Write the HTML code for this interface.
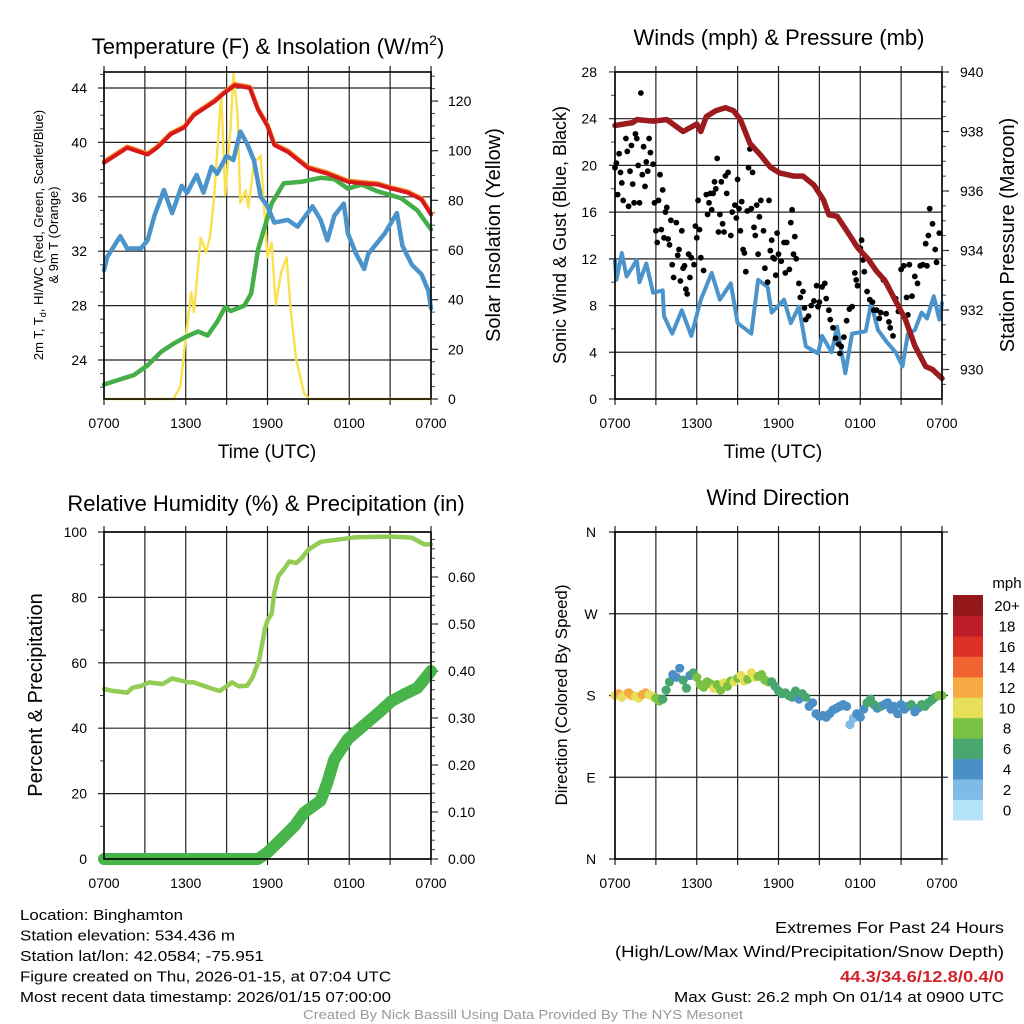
<!DOCTYPE html>
<html><head><meta charset="utf-8">
<style>
html,body{margin:0;padding:0;background:#fff;}
svg{display:block;font-family:"Liberation Sans",Arial,sans-serif;}
</style></head>
<body>
<svg id="chart" width="1024" height="1024" viewBox="0 0 1024 1024" xmlns="http://www.w3.org/2000/svg">
<g id="g"></g>
</svg>
<script>
// ---------- DATA ----------
const tRed = [0,1.7,3.2,3.9,4.9,5.9,6.6,8.1,8.8,9.6,10.7,11.3,12,12.5,13.5,15,16.4,17.9,18.9,20.1,21.1,22.3,23.3,24];
const vRed = [38.5,39.6,39.1,39.6,40.6,41.1,42.0,43.0,43.6,44.2,44.0,42.4,41.2,39.8,39.3,38.1,37.7,37.1,37.0,36.9,36.6,36.3,35.8,34.7];
const tGreen = [0,2.2,3.2,4.2,5.1,6,6.9,7.6,8.3,8.9,9.3,10.3,10.8,11.3,11.8,12.3,13.2,14.5,15.9,16.9,17.9,18.9,20.1,21.8,23,24];
const vGreen = [22.2,22.9,23.6,24.6,25.2,25.7,26.1,25.8,26.8,27.9,27.6,28.0,28.9,32.1,33.8,35.5,37.0,37.1,37.4,37.3,36.6,36.9,36.4,35.9,35.0,33.6];
const tBlue = [0,0.25,1.2,1.7,2.7,3.2,3.7,4.4,5.0,5.7,6.1,6.8,7.3,7.9,8.3,9.0,9.5,10.0,10.5,11.0,11.5,12.0,12.5,13.5,14.2,15.3,15.9,16.4,16.9,17.6,17.9,18.5,19.1,19.4,20.6,21.5,21.9,22.6,23.3,23.8,24];
const vBlue = [30.6,31.6,33.1,32.2,32.2,32.8,34.6,36.5,34.8,36.8,36.3,37.6,36.3,38.2,37.7,39.0,38.7,40.8,39.9,38.7,36.0,35.3,34.1,34.3,33.8,35.3,34.3,32.8,34.6,35.5,33.3,31.8,30.7,31.8,33.3,34.8,32.4,31.0,30.3,29.1,27.8];
const tSun = [0,5.1,5.6,6,6.4,6.6,7.1,7.5,7.8,8.1,8.6,8.9,9.3,9.5,9.8,10.0,10.4,10.6,11.0,11.5,12.0,12.3,12.6,13.0,13.4,13.7,14.1,14.7,15.1,24];
const vSun = [0,0,5,25,43,35,65,59,66,83,123,82,110,131,115,79,84,77,95,98,57,63,38,51,57,36,16,2,0,0];
const tPres = [0,1.3,1.6,2.8,3.8,5.0,6.0,6.3,6.7,7.4,8.1,8.7,9.2,9.9,10.7,11.4,12.1,13.1,13.8,14.6,15.3,15.7,16.3,17.1,17.8,18.6,19.2,19.8,20.6,21.3,22.0,22.8,23.3,24];
const vPres = [938.2,938.3,938.4,938.35,938.4,938.0,938.25,938.0,938.5,938.7,938.8,938.7,938.4,937.6,937.2,936.8,936.6,936.5,936.5,936.2,935.7,935.2,935.15,934.6,934.1,933.7,933.3,933.0,932.3,931.7,930.8,930.1,930.0,929.7];
const tWind = [0,0.1,0.5,0.85,1.6,1.8,2.3,2.8,3.5,3.6,4.2,4.9,5.6,6.3,7.1,7.7,8.5,9.0,10.0,10.5,11.2,11.5,12.4,12.9,13.5,14.0,14.9,15.2,15.9,16.3,16.9,17.4,18.4,18.8,19.3,20.0,20.6,21.1,21.5,22.0,22.5,22.9,23.4,23.8,24];
const vWind = [11.9,10.2,12.5,10.5,11.9,10.0,11.6,9.1,9.3,7.1,5.6,7.6,5.4,8.5,10.8,8.5,9.9,6.5,5.6,10.2,9.6,7.4,8.5,6.5,7.9,4.5,3.9,5.4,4.0,6.2,2.2,5.6,5.8,8.2,5.9,4.8,4.0,2.8,5.6,5.9,7.4,6.9,8.8,6.8,8.2];
const tGust = [0,0.1,0.2,0.3,0.4,0.5,0.6,0.8,0.9,1,1.1,1.2,1.3,1.4,1.5,1.6,1.7,1.8,1.9,2.0,2.1,2.2,2.3,2.4,2.5,2.6,2.8,2.9,3.0,3.1,3.2,3.3,3.4,3.5,3.6,3.7,3.8,3.9,4.0,4.1,4.2,4.3,4.5,4.6,4.7,4.8,4.9,5.0,5.1,5.2,5.3,5.4,5.5,5.6,5.8,5.9,6.0,6.1,6.2,6.3,6.5,6.7,6.8,6.9,7.0,7.1,7.2,7.3,7.4,7.5,7.6,7.7,7.8,7.9,8.0,8.1,8.2,8.3,8.5,8.6,8.8,8.9,9.0,9.1,9.2,9.3,9.4,9.5,9.6,9.7,9.8,9.9,10.0,10.1,10.2,10.3,10.4,10.5,10.6,10.7,10.9,11.0,11.2,11.3,11.4,11.5,11.6,11.7,11.8,11.9,12.0,12.2,12.4,12.5,12.6,12.8,12.9,13.0,13.1,13.2,13.3,13.5,13.6,13.8,13.9,14.0,14.2,14.4,14.6,14.8,14.9,15.0,15.2,15.4,15.5,15.7,15.8,16.0,16.2,16.4,16.5,16.6,16.8,17.0,17.2,17.4,17.6,17.7,17.8,18.0,18.1,18.2,18.3,18.5,18.7,18.9,19.0,19.2,19.4,19.5,19.7,19.9,20.1,20.2,20.4,20.6,20.8,21.0,21.2,21.4,21.5,21.6,21.8,22.0,22.2,22.4,22.6,22.8,22.9,23.0,23.1,23.3,23.5,23.6,23.8];
const vGust = [19.8,20.2,17.5,21,19.4,18.5,17,22.3,21.2,16.5,19.5,21.7,18.4,16.8,22.7,22.3,20,16.8,26.2,19.2,21.6,18.2,20.3,19.5,22.3,21.1,20.1,16.8,14.4,13.4,17,19.2,14.5,17.9,13.8,16,16.4,13.7,13.2,15.3,11.5,10.4,15.1,12.3,12.8,10.1,14.4,11.2,11.4,9.4,9.0,12.4,10.4,12.1,11.5,14.8,13.8,17,14.5,12.1,11,17.5,15.8,16.8,17.6,16.2,17.6,18.6,18,20.6,14.3,15.8,18.6,15,14.3,19.1,17.6,19.4,14,16,16.6,15.5,18.8,16.3,14.4,16.9,12.8,12.5,10.9,16.1,19.8,21.4,16.3,19.4,14.7,14,16.6,12.4,15.6,17,14.4,11.2,10,17,12.7,13.6,12.1,12,10.6,14.2,12.4,11.8,13.4,10.8,13.4,11.1,15.1,16.2,12.4,13.9,12,9.9,8.7,9.2,7.8,6.8,7.1,8,8.4,9.7,7.9,8.3,9.6,9.9,8.6,7.6,6.8,6.1,5.2,4.7,3.9,4.5,5.3,6.7,7.7,7.9,10.8,10.2,9.7,12.9,13.6,11.9,10.9,9.2,8.5,8.3,7.6,7.6,6.9,7.4,10.2,7.3,6.6,6.1,5.4,8.6,7.5,11.1,11.4,8.7,7.2,11.5,8.8,10.5,9.9,11.4,11.5,13.3,11.4,14,16.3,15,12.8,11.7,14.2];
const tRH = [0,0.5,1.7,2.1,2.7,3.3,4.3,5.0,6.2,6.6,7.3,8.0,8.5,9.4,9.9,10.5,10.9,11.4,11.8,12.0,12.3,12.5,12.8,13.2,13.6,14.1,14.5,15.0,15.9,18.5,21.1,22.6,23.5,24];
const vRH = [52,51.5,50.9,52.4,52.9,54,53.5,55.2,54,54,53,52,51.4,54,52.8,53,55.5,61,70.3,73,75,81.5,86.5,88.6,91,90.5,92,94.6,97,98.4,98.6,98.3,96.2,96.2];
const tPcp = [0,11.3,12.0,13.0,14.0,14.7,15.9,16.4,16.9,17.9,19.3,20.3,21.1,22.0,23.0,23.5,24];
const vPcp = [0,0,0.014,0.042,0.071,0.099,0.124,0.163,0.212,0.255,0.29,0.315,0.336,0.35,0.364,0.382,0.4];
const dirDeg = [180,182,178,181,183,180,179,177,181,183,181,179,177,
174,176,186,195,203,200,210,197,188,202,205,200,
192,189,195,193,188,192,186,194,190,196,195,199,
202,196,198,205,200,201,203,197,195,195,190,185,
182,183,180,178,185,176,182,178,168,172,160,157,
158,156,160,164,166,168,170,168,148,155,160,156,
165,172,176,170,166,168,170,172,165,168,160,170,
165,168,170,162,166,170,168,172,175,178,180,180];
const dirSpd = [11,12,10,11,12,13,11,10,12,13,11,10,9,
8,7,6,6,5,4,5,6,6,5,7,8,
8,9,8,9,10,8,9,10,8,9,10,9,
10,10,9,11,10,9,8,9,8,7,7,7,
7,6,6,7,6,5,6,6,5,4,4,4,
4,5,4,5,5,4,4,4,2,3,4,4,
5,6,7,6,5,6,5,4,4,5,4,4,
4,5,6,4,5,6,7,6,7,7,8,8];
const speedLabels = ["0","2","4","6","8","10","12","14","16","18","20+"];
const speedColors = ["#b5e4f8","#7fbbe4","#4a8fc6","#48a66f","#7ac143","#e8df58","#f6a843","#ef6430","#dd3128","#bd1d27","#941719"];
const xTickLabels = ["0700","1300","1900","0100","0700"];
const tlLeftTicks = [24,28,32,36,40,44];
const tlRightTicks = [0,20,40,60,80,100,120];
const trLeftTicks = [0,4,8,12,16,20,24,28];
const trRightTicks = [930,932,934,936,938,940];
const blLeftTicks = [0,20,40,60,80,100];
const blRightTicks = [0,0.1,0.2,0.3,0.4,0.5,0.6];
const dirLabels = ["N","E","S","W","N"];
const dirTicks = [0,90,180,270,360];

// ---------- HELPERS ----------
const NS = "http://www.w3.org/2000/svg";
const root = document.getElementById("g");
function mk(tag, attrs, parent){
  const e = document.createElementNS(NS, tag);
  for (const k in attrs) e.setAttribute(k, attrs[k]);
  (parent || root).appendChild(e);
  return e;
}
function txt(s, x, y, size, anchor, parent, extra){
  const t = mk("text", Object.assign({x:x, y:y, "font-size":size, "text-anchor":anchor||"middle", fill:"#000"}, extra||{}), parent);
  t.textContent = s;
  return t;
}
function pathFrom(ts, vs, xf, yf){
  let d = "";
  for (let i=0;i<ts.length;i++) d += (i?"L":"M") + xf(ts[i]).toFixed(1) + "," + yf(vs[i]).toFixed(1);
  return d;
}
function panel(x0,y0,w,h){
  return {x0:x0,y0:y0,w:w,h:h,x:(t)=>x0 + t/24*w};
}
function frame(P, name){
  const g = mk("g", {});
  
  
  for (let i=0;i<=8;i++){
    const xx = P.x0 + i*P.w/8;
    const l = mk("line",{x1:xx,y1:P.y0-6,x2:xx,y2:P.y0+P.h+6,stroke:"#222","stroke-width":1.2},g);
    
    
  }
  for (let i=0;i<5;i++){
    const tl = txt(xTickLabels[i], P.x0 + i*P.w/4, P.y0+P.h+29, 14, "middle", g);
    
    
  }
  return g;
}
function hgrid(P, ticks, yf, labels, lx, anchor, extendL, extendR, g){
  for (let i=0;i<ticks.length;i++){
    const yy = yf(ticks[i]);
    const l = mk("line",{x1:P.x0-extendL,y1:yy,x2:P.x0+P.w+extendR,y2:yy,stroke:"#222","stroke-width":1.2},g);
    
    
    if (labels){
      const tl = txt(labels[i], lx, yy+5, 14, anchor, g);
      
      
    }
  }
}
function ticksOnly(P, ticks, yf, labels, lx, anchor, side, g){
  for (let i=0;i<ticks.length;i++){
    const yy = yf(ticks[i]);
    const xx = side==="right" ? P.x0+P.w : P.x0;
    mk("line",{x1:xx,y1:yy,x2:side==="right"?xx+7:xx-7,y2:yy,stroke:"#222","stroke-width":1.2},g);
    const tl = txt(labels[i], lx, yy+5, 14, anchor, g);
    
    
  }
}
function minor(P, from, to, step, yf, side, g){
  for (let v=from; v<=to+1e-9; v+=step){
    const yy = yf(v);
    const xx = side==="right" ? P.x0+P.w : P.x0;
    mk("line",{x1:xx,y1:yy,x2:side==="right"?xx+4:xx-4,y2:yy,stroke:"#444","stroke-width":1},g);
  }
}
function border(P){
  const r = mk("rect",{x:P.x0,y:P.y0,width:P.w,height:P.h,fill:"none",stroke:"#000","stroke-width":1.6});
  
  
}
function line(ts, vs, xf, yf, color, w, name){
  const p = mk("path",{d:pathFrom(ts,vs,xf,yf),fill:"none",stroke:color,"stroke-width":w,"stroke-linejoin":"round","stroke-linecap":"round"});
  
  
  return p;
}
function rotText(s, x, y, size, name){
  const t = txt(s, 0, 0, size, "middle", null, {transform:"translate("+x+","+y+") rotate(-90)"});
  
  
  return t;
}

// ---------- PANEL 1 ----------
const P1 = panel(104,72,327,327);
const y1L = v => 88 - (v-44)*13.6;
const y1R = v => 399 - v*2.483;
const g1 = frame(P1,"temperature");
hgrid(P1, tlLeftTicks, y1L, tlLeftTicks.map(String), 87, "end", 6, 0, g1);
minor(P1, 22, 45, 1, y1L, "left", g1);
ticksOnly(P1, tlRightTicks, y1R, tlRightTicks.map(String), 448, "start", "right", g1);
minor(P1, 5, 130, 5, y1R, "right", g1);
line(tSun, vSun, P1.x, y1R, "#f9e04c", 2.4, "insolation-line");
line(tGreen, vGreen, P1.x, y1L, "#45ae48", 4.5, "dewpoint-line");
line(tBlue, vBlue, P1.x, y1L, "#4b93cb", 4.5, "windchill-line");
line(tRed, vRed.map(v=>v+0.08), P1.x, y1L, "#f58a24", 4.5, "9m-temperature-line");
line(tRed, vRed, P1.x, y1L, "#d7191c", 4, "2m-temperature-line");
border(P1);
let t;
t = mk("text",{x:268,y:54,"font-size":22,"text-anchor":"middle",fill:"#000"});


t.innerHTML = 'Temperature (F) &amp; Insolation (W/m<tspan font-size="14" dy="-9">2</tspan><tspan dy="9">)</tspan>';
t = txt("Time (UTC)", 267, 458, 19);  
rotText("Solar Insolation (Yellow)", 500, 235, 20, "y2-axis-title");
t = mk("text",{x:0,y:0,"font-size":13,"text-anchor":"middle",fill:"#000",transform:"translate(43,235) rotate(-90)"});


t.innerHTML = '2m T, T<tspan font-size="9" dy="3">d</tspan><tspan dy="-3">, HI/WC (Red, Green, Scarlet/Blue)</tspan>';
rotText("& 9m T (Orange)", 58, 235, 13, "y-axis-title-line2");

// ---------- PANEL 2 ----------
const P2 = panel(615,72,327,327);
const y2L = v => 399 - v*11.68;
const y2R = p => 72 + (940-p)*29.75;
const g2 = frame(P2,"winds");
hgrid(P2, trLeftTicks, y2L, trLeftTicks.map(String), 597, "end", 6, 0, g2);
minor(P2, 0, 28, 2, y2L, "left", g2);
ticksOnly(P2, trRightTicks, y2R, trRightTicks.map(String), 960, "start", "right", g2);
minor(P2, 929.5, 940, 0.5, y2R, "right", g2);
line(tWind, vWind, P2.x, y2L, "#4b93cb", 4, "sonic-wind-line");
for (let i=0;i<tGust.length;i++){
  const c = mk("circle",{cx:P2.x(tGust[i]).toFixed(1),cy:y2L(vGust[i]).toFixed(1),r:2.9,fill:"#000"});
  
  
}
line(tPres, vPres, P2.x, y2R, "#9b1b1e", 5.5, "pressure-line");
border(P2);
t = txt("Winds (mph) & Pressure (mb)", 779, 45, 22);  
t = txt("Time (UTC)", 773, 458, 19);  
rotText("Sonic Wind & Gust (Blue, Black)", 566, 235, 18, "y-axis-title-2");
rotText("Station Pressure (Maroon)", 1014, 235, 20, "y2-axis-title-2");

// ---------- PANEL 3 ----------
const P3 = panel(104,532,327,327);
const y3L = v => 859 - v*3.27;
const y3R = p => 859 - p*470;
const g3 = frame(P3,"humidity");
hgrid(P3, blLeftTicks, y3L, blLeftTicks.map(String), 87, "end", 6, 0, g3);
minor(P3, 0, 100, 10, y3L, "left", g3);
ticksOnly(P3, blRightTicks, y3R, blRightTicks.map(v=>v.toFixed(2)), 448, "start", "right", g3);
minor(P3, 0, 0.69, 0.02, y3R, "right", g3);
line(tRH, vRH, P3.x, y3L, "#92cc55", 4.5, "relative-humidity-line");
line(tPcp, vPcp, P3.x, y3R, "#47b54a", 12, "precipitation-line");
border(P3);
t = txt("Relative Humidity (%) & Precipitation (in)", 266, 511, 22);  
rotText("Percent & Precipitation", 42, 695, 20, "y-axis-title-3");

// ---------- PANEL 4 ----------
const P4 = panel(615,532,327,327);
const y4 = d => 859 - d*0.9083;
const g4 = frame(P4,"direction");
hgrid(P4, dirTicks, y4, dirLabels, 591, "middle", 6, 6, g4);
for (let i=0;i<dirDeg.length;i++){
  const tt = i*0.25;
  const bin = Math.min(10, Math.floor(dirSpd[i]/2));
  const c = mk("circle",{cx:P4.x(tt).toFixed(1),cy:y4(dirDeg[i]).toFixed(1),r:4.6,fill:speedColors[bin]});
  
  
}
border(P4);
t = txt("Wind Direction", 778, 505, 22);  
rotText("Direction (Colored By Speed)", 567, 695, 17, "y-axis-title-4");
const cb = mk("g",{});


for (let i=0;i<speedLabels.length;i++){
  const by = 799.5 - i*20.45;
  const r = mk("rect",{x:953,y:by.toFixed(1),width:30,height:20.9,fill:speedColors[i]},cb);
  
  
  const l = txt(speedLabels[i], 1007, by+16, 15, "middle", cb);
  
  
}
t = txt("mph", 1007, 588, 15, "middle", cb);  

// ---------- FOOTER ----------
const leftLines = ["Location: Binghamton","Station elevation: 534.436 m","Station lat/lon: 42.0584; -75.951","Figure created on Thu, 2026-01-15, at 07:04 UTC","Most recent data timestamp: 2026/01/15 07:00:00"];
const leftLens = [163,215,244,371,371];
for (let i=0;i<leftLines.length;i++){
  const l = txt(leftLines[i], 20, 920 + i*20.5, 15, "start", null, {textLength:leftLens[i], lengthAdjust:"spacingAndGlyphs"});
  
  
}
t = txt("Extremes For Past 24 Hours", 1004, 933, 16, "end", null, {textLength:229, lengthAdjust:"spacingAndGlyphs"});  
t = txt("(High/Low/Max Wind/Precipitation/Snow Depth)", 1004, 957, 16, "end", null, {textLength:389, lengthAdjust:"spacingAndGlyphs"});  
t = txt("44.3/34.6/12.8/0.4/0", 1004, 982, 16, "end", null, {fill:"#d2232a","font-weight":"bold",textLength:164, lengthAdjust:"spacingAndGlyphs"});  
t = txt("Max Gust: 26.2 mph On 01/14 at 0900 UTC", 1004, 1002, 15, "end", null, {textLength:330, lengthAdjust:"spacingAndGlyphs"});  
t = txt("Created By Nick Bassill Using Data Provided By The NYS Mesonet", 523, 1019, 13, "middle", null, {fill:"#999",textLength:440, lengthAdjust:"spacingAndGlyphs"});
 
</script>
</body></html>
